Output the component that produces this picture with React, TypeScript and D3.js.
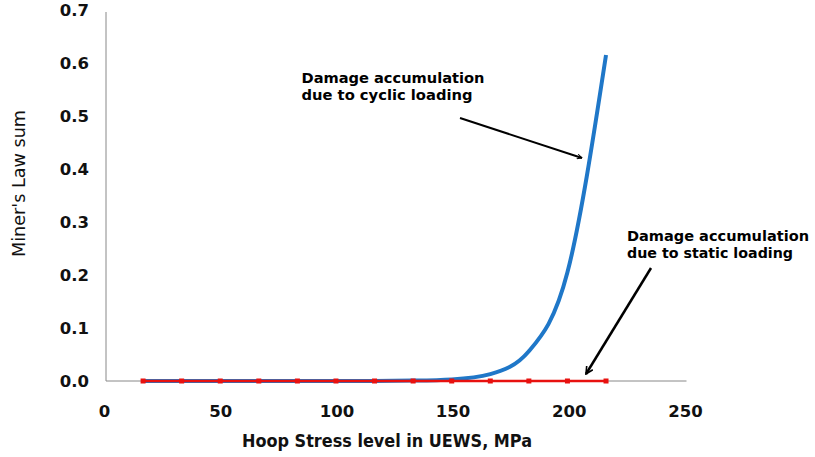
import React from "react";
import * as d3 from "d3";

const stress = [16.6, 33.2, 49.8, 66.4, 83, 99.6, 116.2, 132.8, 149.4, 166, 182.6, 199.2, 215.8];
const cyclicDamage = [0, 0, 0, 0, 0, 0, 0.0002, 0.0008, 0.003, 0.013, 0.056, 0.205, 0.615];
const staticDamage = [0, 0, 0, 0, 0, 0, 0, 0, 0, 0, 0, 0, 0];
const xTicks = [0, 50, 100, 150, 200, 250];
const yTicks = [0, 0.1, 0.2, 0.3, 0.4, 0.5, 0.6, 0.7];

const W = 815, H = 457;
const left = 104.5, right = 685.5, top = 10, bottom = 381;

export default function App() {
  const x = d3.scaleLinear().domain([0, 250]).range([left, right]);
  const y = d3.scaleLinear().domain([0, 0.7]).range([bottom, top]);
  const pts = stress.map((s, i) => [s, cyclicDamage[i]] as [number, number]);
  const spts = stress.map((s, i) => [s, staticDamage[i]] as [number, number]);
  const lineSmooth = d3.line<[number, number]>().x(d => x(d[0])).y(d => y(d[1])).curve(d3.curveMonotoneX);
  const lineStraight = d3.line<[number, number]>().x(d => x(d[0])).y(d => y(d[1]));
  const font = "'DejaVu Sans', Verdana, sans-serif";
  return (
    <svg width={W} height={H} style={{ position: "absolute", left: 0, top: 0, background: "#fff" }}>
      <defs>
        <marker id="ah" viewBox="0 0 10 10" refX="9" refY="5" markerWidth="6" markerHeight="6" orient="auto" markerUnits="userSpaceOnUse">
          <path d="M1,1 L9,5 L1,9" fill="none" stroke="#000" strokeWidth={1.6} />
        </marker>
        <marker id="ah2" viewBox="0 0 10 10" refX="9" refY="5" markerWidth="9" markerHeight="9" orient="auto" markerUnits="userSpaceOnUse">
          <path d="M1,1 L9,5 L1,9" fill="none" stroke="#000" strokeWidth={1.8} />
        </marker>
      </defs>
      <line x1={x(0) + 1.5} x2={x(0) + 1.5} y1={y(0.7) + 2} y2={y(0)} stroke="#888" strokeWidth={1} />
      <line x1={x(0) + 1.5} x2={x(250) + 1} y1={y(0)} y2={y(0)} stroke="#888" strokeWidth={1} />
      {yTicks.map(t => (
        <text key={t} x={89} y={y(t)} dy="0.36em" textAnchor="end" fontFamily={font} fontWeight="bold" fontSize={16.5} fill="#111">
          {t.toFixed(1)}
        </text>
      ))}
      {xTicks.map(t => (
        <text key={t} x={x(t)} y={411} dy="0.36em" textAnchor="middle" fontFamily={font} fontWeight="bold" fontSize={16.5} fill="#111">
          {t}
        </text>
      ))}
      <text x={242} y={446.5} textLength={290} lengthAdjust="spacingAndGlyphs" fontFamily={font} fontWeight="bold" fontSize={17} fill="#111">
        Hoop Stress level in UEWS, MPa
      </text>
      <text transform="translate(24.5,257) rotate(-90)" textLength={147} lengthAdjust="spacingAndGlyphs" fontFamily={font} fontSize={17} fill="#111">
        Miner's Law sum
      </text>
      <path d={lineSmooth(pts) || ""} fill="none" stroke="#1f77c8" strokeWidth={4} />
      <path d={lineStraight(spts) || ""} fill="none" stroke="#e8110f" strokeWidth={2.5} />
      {spts.map((d, i) => (
        <rect key={i} x={x(d[0]) - 2.5} y={y(d[1]) - 2.5} width={5} height={5} fill="#e8110f" />
      ))}
      <g fontFamily={font} fontWeight="bold" fontSize={14.5} fill="#000">
        <text x={301.5} y={82.5} textLength={183} lengthAdjust="spacingAndGlyphs">Damage accumulation</text>
        <text x={301.5} y={100} textLength={171} lengthAdjust="spacingAndGlyphs">due to cyclic loading</text>
        <text x={627} y={240.5} textLength={182} lengthAdjust="spacingAndGlyphs">Damage accumulation</text>
        <text x={627} y={258} textLength={166} lengthAdjust="spacingAndGlyphs">due to static loading</text>
      </g>
      <line x1={460} y1={118} x2={582} y2={158} stroke="#000" strokeWidth={2} markerEnd="url(#ah)" />
      <line x1={651} y1={268} x2={586} y2={374} stroke="#000" strokeWidth={2.5} markerEnd="url(#ah2)" />
    </svg>
  );
}
